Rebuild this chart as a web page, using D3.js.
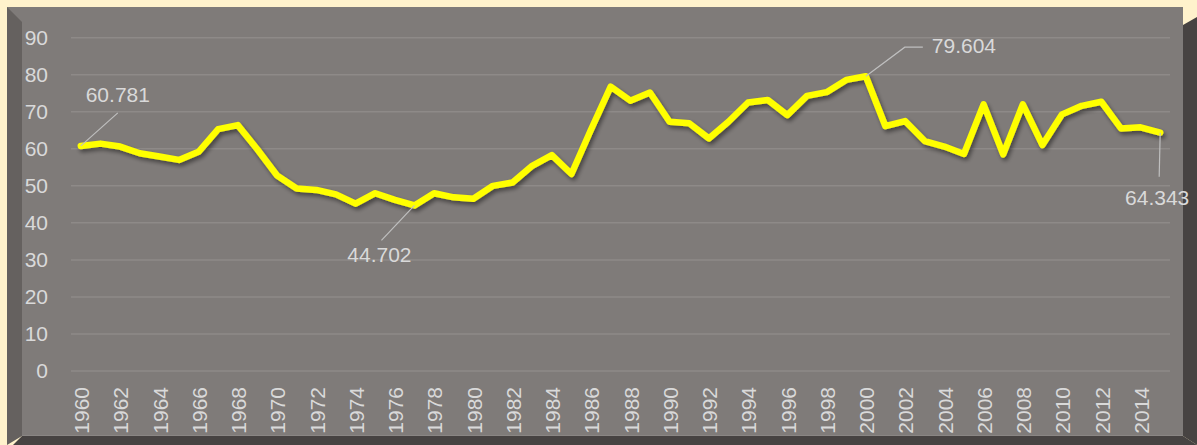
<!DOCTYPE html>
<html>
<head>
<meta charset="utf-8">
<script src="https://cdn.jsdelivr.net/npm/d3@7"></script>
<style>
  html, body { margin: 0; padding: 0; background: #FFF2CC; }
  svg { display: block; }
  text { font-family: "Liberation Sans", Arial, sans-serif; }
</style>
</head>
<body>
<svg id="chart" width="1197" height="445"></svg>
<script>
// ---- data ----
const years = d3.range(1960, 2016);
const values = [
  60.781, 61.4, 60.6, 58.8, 57.9, 57.0, 59.2, 65.3, 66.4, 59.8,
  52.8, 49.3, 48.9, 47.7, 45.2, 48.0, 46.2, 44.702, 48.0, 46.9,
  46.5, 50.0, 50.9, 55.4, 58.3, 53.2, 65.2, 76.8, 73.0, 75.2,
  67.3, 66.9, 62.8, 67.3, 72.5, 73.2, 69.1, 74.3, 75.3, 78.6,
  79.604, 66.1, 67.5, 62.1, 60.6, 58.6, 72.0, 58.5, 72.0, 61.0,
  69.3, 71.6, 72.7, 65.5, 65.8, 64.343
];
const yTicks = [0, 10, 20, 30, 40, 50, 60, 70, 80, 90];
const xTickYears = years.filter(y => y % 2 === 0);

// ---- layout ----
const svg = d3.select("#chart");
const faceColor = "#7F7B79";
const FS = 21;

// frame / bevels
svg.append("rect").attr("x", 7).attr("y", 7).attr("width", 1176).attr("height", 429).attr("fill", faceColor);
svg.append("polygon").attr("points", "7,7 22,22 22,436 7,445").attr("fill", "#65615F");
svg.append("polygon").attr("points", "1183,25 1197,17 1197,445 1183,436").attr("fill", "#474342");
svg.append("polygon").attr("points", "22,436 1183,436 1197,445 13,445").attr("fill", "#474342");
svg.append("line").attr("x1", 22).attr("x2", 1183).attr("y1", 435.5).attr("y2", 435.5)
  .attr("stroke", "#8A8684").attr("stroke-width", 1);

const x = d3.scaleBand().domain(years).range([71, 1170]);
const y = d3.scaleLinear().domain([0, 90]).range([371, 37.7]);
const cx = d => x(d) + x.bandwidth() / 2;

// grid
svg.append("g").selectAll("line").data(yTicks).join("line")
  .attr("x1", 71).attr("x2", 1170)
  .attr("y1", d => y(d)).attr("y2", d => y(d))
  .attr("stroke", "#8E8A88").attr("stroke-width", 1.5);

// y axis labels
const yAxis = d3.axisLeft(y).tickValues(yTicks).tickSize(0).tickPadding(0);
const gy = svg.append("g").attr("transform", "translate(48,0)").call(yAxis);
gy.select(".domain").remove();
gy.selectAll("text").attr("fill", "#D9D9D9").attr("font-size", FS)
  .attr("font-family", "Liberation Sans, Arial, sans-serif");

// x axis labels
const xAxis = d3.axisBottom(x).tickValues(xTickYears).tickSize(0).tickPadding(0);
const gx = svg.append("g").attr("transform", "translate(0,387)").call(xAxis);
gx.select(".domain").remove();
gx.selectAll("text")
  .attr("fill", "#D9D9D9").attr("font-size", FS)
  .attr("font-family", "Liberation Sans, Arial, sans-serif")
  .attr("text-anchor", "end")
  .attr("dy", "0.35em")
  .attr("transform", "translate(1,0) rotate(-90)");

// shadow filter
const defs = svg.append("defs");
const f = defs.append("filter").attr("id", "shadow").attr("x", "-5%").attr("y", "-20%").attr("width", "110%").attr("height", "140%");
f.append("feDropShadow").attr("dx", 2).attr("dy", 3).attr("stdDeviation", 2)
  .attr("flood-color", "#000").attr("flood-opacity", 0.45);

// line
const data = years.map((yr, i) => ({ yr, v: values[i] }));
const line = d3.line().x(d => cx(d.yr)).y(d => y(d.v));
svg.append("path").datum(data)
  .attr("d", line)
  .attr("fill", "none")
  .attr("stroke", "#FFFF00")
  .attr("stroke-width", 6.5)
  .attr("stroke-linejoin", "round")
  .attr("stroke-linecap", "round")
  .attr("filter", "url(#shadow)");

// data labels with leader lines
const lblColor = "#D9D9D9", leadColor = "#BFBFBF";
const byYear = yr => data.find(d => d.yr === yr);

function label(yr, pts, tx, ty, anchor) {
  const d = byYear(yr);
  const px = cx(yr), py = y(d.v);
  const path = [[px, py]].concat(pts.map(p => [px + p[0], py + p[1]]));
  svg.append("path").attr("d", d3.line()(path)).attr("fill", "none")
    .attr("stroke", leadColor).attr("stroke-width", 1.2);
  svg.append("text").attr("x", px + tx).attr("y", py + ty)
    .attr("text-anchor", anchor).attr("fill", lblColor).attr("font-size", FS)
    .text(String(d.v));
}
label(1960, [[37, -33]], 37, -44, "middle");
label(1977, [[-33, 35]], -35, 57, "middle");
label(2000, [[39, -29], [57, -29]], 66, -23, "start");
label(2015, [[-1, 44]], -3, 72, "middle");
</script>
</body>
</html>
